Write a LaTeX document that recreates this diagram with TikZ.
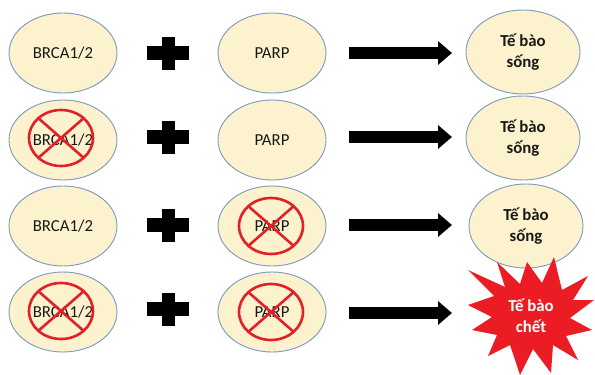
\documentclass[tikz,border=0pt]{standalone}
\usepackage{fontspec}
\setmainfont{Carlito}
\usetikzlibrary{shapes.geometric,arrows.meta}
\definecolor{cellfill}{RGB}{252,242,206}
\definecolor{cellline}{RGB}{125,152,185}
\definecolor{xred}{RGB}{226,32,40}
\definecolor{starred}{RGB}{236,28,36}
\definecolor{txt}{RGB}{25,25,25}
\tikzset{
  cell/.style={ellipse, draw=cellline, line width=0.9pt, fill=cellfill, minimum width=108pt, minimum height=80pt, inner sep=0pt, text=txt, font=\fontsize{16.8}{19}\selectfont},
  result/.style={ellipse, draw=cellline, line width=0.9pt, fill=cellfill, minimum width=114pt, minimum height=84pt, inner sep=0pt, text=txt, align=center, font=\bfseries\fontsize{16.8}{21}\selectfont},
  blockarrow/.style={line width=12pt, -{Triangle[width=23pt,length=14pt]}},
  nocross/.pic={
    \draw[xred, line width=2.6pt] (0,0) ellipse [x radius=32pt, y radius=28pt];
    \draw[xred, line width=2.6pt] (-22.6,-19.8) -- (22.6,19.8);
    \draw[xred, line width=2.6pt] (-22.6,19.8) -- (22.6,-19.8);
  },
  plussign/.pic={
    \fill[black] (-21,-7) rectangle (21,7);
    \fill[black] (-6.5,-16.5) rectangle (6.5,16.5);
  }
}
\begin{document}
\begin{tikzpicture}[x=1pt,y=-1pt]
\useasboundingbox (0,0) rectangle (595,375);
% row 1
\node[cell] (b1) at (63,53) {BRCA1/2};
\node[cell] (q1) at (272,53) {PARP};
\node[result] (r1) at (523,52) {Tế bào\\sống};
% row 2
\node[cell] (b2) at (63,140) {BRCA1/2};
\node[cell] (q2) at (272,140) {PARP};
\node[result] (r2) at (523,138) {Tế bào\\sống};
% row 3
\node[cell] (b3) at (63,226) {BRCA1/2};
\node[cell] (q3) at (272,226) {PARP};
\node[result] (r3) at (526,226) {Tế bào\\sống};
% row 4
\node[cell] (b4) at (63,312) {BRCA1/2};
\node[cell] (q4) at (272,312) {PARP};

% crosses
\pic at (61,138) {nocross};
\pic at (271,226) {nocross};
\pic at (61,311) {nocross};
\pic at (271,312) {nocross};

% plus signs
\coordinate (p1) at (168,53);
\coordinate (p2) at (168,137);
\coordinate (p3) at (168,225);
\coordinate (p4) at (168,309);
\pic at (p1) {plussign};
\pic at (p2) {plussign};
\pic at (p3) {plussign};
\pic at (p4) {plussign};

% arrows
\coordinate (a1s) at (349,53);  \coordinate (a1e) at (452,53);
\coordinate (a2s) at (349,137); \coordinate (a2e) at (452,137);
\coordinate (a3s) at (349,225); \coordinate (a3e) at (452,225);
\coordinate (a4s) at (349,313); \coordinate (a4e) at (452,313);
\draw[blockarrow] (a1s) -- (a1e);
\draw[blockarrow] (a2s) -- (a2e);
\draw[blockarrow] (a3s) -- (a3e);
\draw[blockarrow] (a4s) -- (a4e);

% starburst
\fill[starred] (554,257) -- (562,290) -- (588,276) -- (573,300) -- (594,300) -- (570,318)
  -- (592,330) -- (566,336) -- (578,360) -- (553,345) -- (551,373) -- (533,349)
  -- (520,375) -- (510,345) -- (488,356) -- (497,335) -- (472,330) -- (492,317)
  -- (468,305) -- (494,296) -- (468,270) -- (505,287) -- (497,262) -- (520,284)
  -- (527,262) -- (542,283) -- cycle;
\node[text=white, align=center, font=\bfseries\fontsize{16.8}{21}\selectfont] (dead) at (531,316) {Tế bào\\chết};
\end{tikzpicture}
\end{document}
